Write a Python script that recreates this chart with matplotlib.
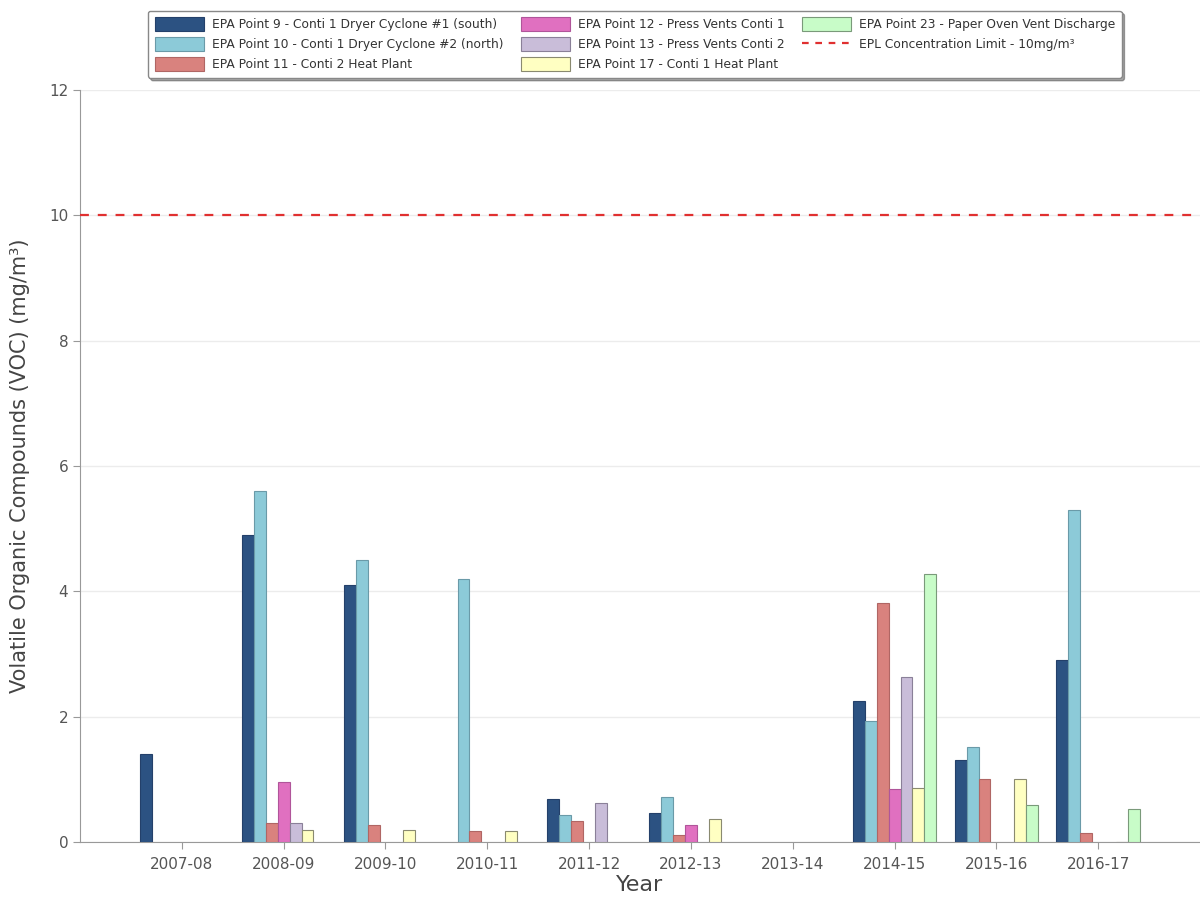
import numpy as np
import matplotlib
matplotlib.use("Agg")
import matplotlib.pyplot as plt
from matplotlib.lines import Line2D

nan = np.nan

years = ["2007-08", "2008-09", "2009-10", "2010-11", "2011-12",
         "2012-13", "2013-14", "2014-15", "2015-16", "2016-17"]

p9 = [1.4, 4.9, 4.1, nan, 0.68, 0.47, nan, 2.25, 1.31, 2.9]
p10 = [nan, 5.6, 4.5, 4.2, 0.43, 0.72, nan, 1.93, 1.51, 5.3]
p11 = [nan, 0.3, 0.27, 0.18, 0.33, 0.11, nan, 3.82, 1.0, 0.14]
p12 = [nan, 0.95, nan, nan, nan, 0.27, nan, 0.85, nan, nan]
p13 = [nan, 0.3, nan, nan, 0.62, nan, nan, 2.64, nan, nan]
p17 = [nan, 0.2, 0.2, 0.17, nan, 0.37, nan, 0.87, 1.0, 0.0]
p23 = [nan, nan, nan, nan, nan, nan, nan, 4.27, 0.59, 0.53]

limit = 10

series_names = [
    "EPA Point 9 - Conti 1 Dryer Cyclone #1 (south)",
    "EPA Point 10 - Conti 1 Dryer Cyclone #2 (north)",
    "EPA Point 11 - Conti 2 Heat Plant",
    "EPA Point 12 - Press Vents Conti 1",
    "EPA Point 13 - Press Vents Conti 2",
    "EPA Point 17 - Conti 1 Heat Plant",
    "EPA Point 23 - Paper Oven Vent Discharge",
]
limit_name = "EPL Concentration Limit - 10mg/m\u00b3"

colors = ["#2c5282", "#8ccad8", "#d9827e", "#e070c0", "#c9bdd9", "#ffffc2", "#c8fcc8"]
edges = ["#24406a", "#6a9aa8", "#b06664", "#b0559a", "#8a8098", "#8a8a70", "#7a9a7a"]

grey = "#555555"

fig = plt.figure(figsize=(12, 9.06), dpi=100)
ax = fig.add_axes([0.0667, 0.0706, 0.9333, 0.8301])

x = np.arange(len(years))
w = 0.117
all_series = [p9, p10, p11, p12, p13, p17, p23]
handles = []
for i, vals in enumerate(all_series):
    b = ax.bar(x + (i - 3) * w, vals, w, color=colors[i], edgecolor=edges[i],
               linewidth=0.8, label=series_names[i], zorder=3)
    handles.append(b)

ax.axhline(limit, color="#e03030", linestyle=(0, (4, 4)), linewidth=1.6, zorder=4)
handles.append(Line2D([0], [0], color="#e03030", linestyle=(0, (3, 3)), linewidth=1.6))

ax.set_xlim(-1, 10)
ax.set_ylim(0, 12)
ax.set_yticks(range(0, 13, 2))
ax.set_xticks(x)
ax.set_xticklabels(years)
ax.yaxis.grid(True, color="#ececec", linewidth=1, zorder=0)
ax.set_axisbelow(True)

for s in ["top", "right"]:
    ax.spines[s].set_visible(False)
for s in ["left", "bottom"]:
    ax.spines[s].set_color("#999999")
ax.tick_params(axis="both", colors="#999999", labelcolor=grey, labelsize=11, length=5)
ax.tick_params(axis="x", pad=6)

ax.set_ylabel("Volatile Organic Compounds (VOC) (mg/m\u00b3)", fontsize=15, color="#444444", labelpad=14)
ax.set_xlabel("Year", fontsize=16, color="#444444", labelpad=2)

labels = series_names + [limit_name]
leg = fig.legend(handles, labels, loc="upper center", bbox_to_anchor=(0.529, 0.995),
                 ncol=3, fontsize=8.85, frameon=True, fancybox=True, shadow=True,
                 handlelength=4.0, handleheight=1.3, handletextpad=0.65,
                 columnspacing=1.4, labelspacing=0.5, borderpad=0.55,
                 labelcolor="#333333")
leg.get_frame().set_edgecolor("#888888")
leg.get_frame().set_linewidth(1.0)

fig.savefig("out.png", dpi=100)
